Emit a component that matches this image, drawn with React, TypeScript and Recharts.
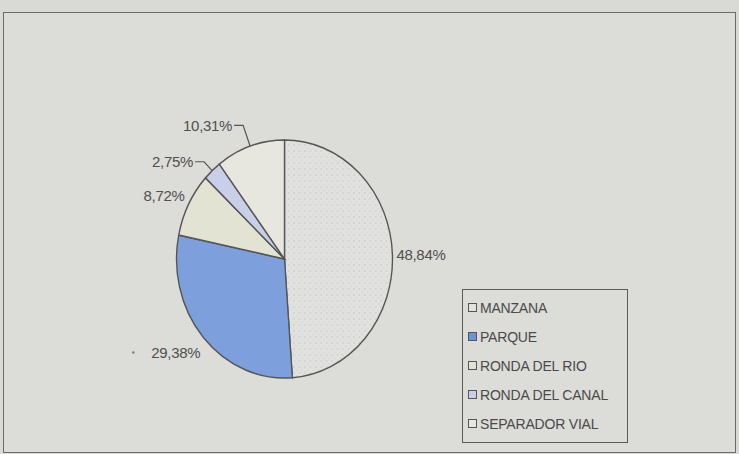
import React from 'react';
import { PieChart, Pie, Cell, Legend } from 'recharts';

const categories = ['MANZANA', 'PARQUE', 'RONDA DEL RIO', 'RONDA DEL CANAL', 'SEPARADOR VIAL'];
const values = [48.84, 29.38, 8.72, 2.75, 10.31];
const valueLabels = ['48,84%', '29,38%', '8,72%', '2,75%', '10,31%'];
const colors = ['url(#dots)', '#7d9fdc', '#e3e3d4', '#c9cfe8', '#e7e7df'];
const legendColors = ['#e2e2e0', '#6f93d6', '#e3e3d4', '#c9cfe8', '#e7e7df'];

const data = categories.map((name, i) => ({ name, value: values[i], label: valueLabels[i] }));

const CX = 284.5;
const CY = 259;
const RY = 119;
const SX = 108 / 119;
const RAD = Math.PI / 180;

// label placement config per slice (style, not data)
const labelCfg = [
  { line: false, dx: 4, dy: 0, anchor: 'start', r: 0, h: 0 },
  { line: false, dx: -3, dy: 15, anchor: 'end', r: 0, h: 0, dot: true },
  { line: false, dx: -4, dy: -9, anchor: 'end', r: 0, h: 0 },
  { line: true, dx: 0, dy: 0, anchor: 'end', r: 12, h: 9 },
  { line: true, dx: 0, dy: 0, anchor: 'end', r: 22, h: 9 },
];

const renderLabel = (props: any) => {
  const { cx, cy, midAngle, outerRadius, index, payload } = props;
  const rx = outerRadius * SX;
  const ex = cx + rx * Math.cos(midAngle * RAD);
  const ey = cy - outerRadius * Math.sin(midAngle * RAD);
  const cfg = labelCfg[index];
  const text = payload && payload.label ? payload.label : valueLabels[index];
  const style = { fontFamily: '"Liberation Sans", Arial, sans-serif', fontSize: 15, fill: '#505050', letterSpacing: '-0.3px' };
  if (cfg.line) {
    const bx = ex + cfg.r * Math.cos(midAngle * RAD);
    const by = ey - cfg.r * Math.sin(midAngle * RAD);
    const tx = bx - cfg.h;
    return (
      <g>
        <polyline points={`${ex},${ey} ${bx},${by} ${tx},${by}`} fill="none" stroke="#555" strokeWidth={1.2} />
        <text x={tx - 2} y={by} textAnchor="end" dominantBaseline="central" style={style}>{text}</text>
      </g>
    );
  }
  return (
    <g>
      {cfg.dot ? <circle cx={ex + cfg.dx - 67} cy={ey + cfg.dy} r={1.2} fill="#777" /> : null}
      <text x={ex + cfg.dx} y={ey + cfg.dy} textAnchor={cfg.anchor as any} dominantBaseline="central" style={style}>{text}</text>
    </g>
  );
};

const renderLegend = (props: any) => {
  const payload = [...(props.payload || [])].sort(
    (a: any, b: any) => categories.indexOf(a.value) - categories.indexOf(b.value)
  );
  return (
    <div
      style={{
        border: '1.5px solid #5a5a5a',
        width: 166,
        height: 154,
        boxSizing: 'border-box',
        padding: '3px 0 0 5px',
        fontFamily: '"Liberation Sans", Arial, sans-serif',
        fontSize: 14,
        color: '#4a4a4a',
        letterSpacing: '-0.2px',
        background: 'transparent',
      }}
    >
      {payload.map((e: any, i: number) => (
        <div key={i} style={{ height: 29, display: 'flex', alignItems: 'center', whiteSpace: 'nowrap' }}>
          <span
            style={{
              display: 'inline-block',
              width: 7,
              height: 7,
              border: '1px solid #555',
              background: legendColors[categories.indexOf(e.value)],
              marginRight: 3,
            }}
          />
          <span>{e.value}</span>
        </div>
      ))}
    </div>
  );
};

export default function App() {
  return (
    <div style={{ position: 'absolute', left: 0, top: 0, width: 739, height: 454, background: '#d9d9d5', overflow: 'hidden' }}>
      <style>{`
        .recharts-pie-sector { transform-box: view-box; transform-origin: ${CX}px ${CY}px; transform: scaleX(${SX}); }
      `}</style>
      <div
        style={{
          position: 'absolute',
          left: 3,
          top: 12,
          width: 731,
          height: 439,
          border: '1.5px solid #6a6a6a',
          background: '#dcdcd9',
        }}
      />
      <div style={{ position: 'absolute', left: 0, top: 0 }}>
        <PieChart width={739} height={454} margin={{ top: 0, right: 0, bottom: 0, left: 0 }}>
          <defs>
            <pattern id="dots" width="6" height="6" patternUnits="userSpaceOnUse">
              <rect width="6" height="6" fill="#e1e1df" />
              <circle cx="1" cy="1" r="0.7" fill="#bdbdbd" />
              <circle cx="4" cy="4" r="0.6" fill="#c6c6c6" />
            </pattern>
          </defs>
          <Pie
            data={data}
            dataKey="value"
            nameKey="name"
            cx={CX}
            cy={CY}
            outerRadius={RY}
            startAngle={90}
            endAngle={-270}
            stroke="#555"
            strokeWidth={1.5}
            label={renderLabel}
            labelLine={false}
            isAnimationActive={false}
          >
            {data.map((d, i) => (
              <Cell key={d.name} fill={colors[i]} />
            ))}
          </Pie>
          <Legend
            layout="vertical"
            align="right"
            verticalAlign="bottom"
            content={renderLegend}
            wrapperStyle={{ position: 'absolute', left: 462, top: 289, width: 166, height: 154, bottom: 'auto', right: 'auto' }}
          />
        </PieChart>
      </div>
    </div>
  );
}
